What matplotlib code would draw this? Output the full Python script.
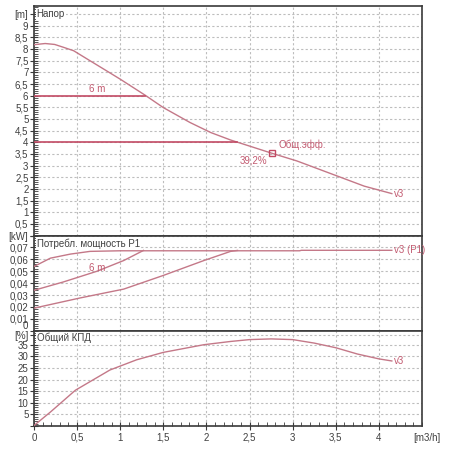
import numpy as np
import matplotlib
matplotlib.use('Agg')
from matplotlib import pyplot as plt
from matplotlib.ticker import FixedLocator, MultipleLocator

plt.rcParams['font.family'] = ['Liberation Sans', 'DejaVu Sans']

# head curve v3
q_head = [0, 0.13, 0.24, 0.34, 0.46, 0.65, 0.81, 1.0, 1.29, 1.5, 1.81, 2.05, 2.28, 2.76, 3.05, 3.52, 3.83, 4.15]
h_head = [8.19, 8.24, 8.2, 8.08, 7.93, 7.5, 7.14, 6.71, 6.02, 5.49, 4.85, 4.42, 4.1, 3.53, 3.2, 2.55, 2.12, 1.8]
# constant pressure lines
h_const = [6.0, 4.0]
q_const_end = [1.29, 2.36]
# duty point
q_duty, h_duty = 2.76, 3.53
eff_duty = '39,2%'

# power P1
q_p_v3 = [0, 0.19, 0.42, 0.65, 1.0, 3.08, 3.1, 4.15]
p_v3 = [0.054, 0.061, 0.0644, 0.0667, 0.0672, 0.0672, 0.0676, 0.0676]
q_p_6m = [0, 0.34, 0.73, 1.04, 1.27]
p_6m = [0.034, 0.041, 0.050, 0.059, 0.0675]
q_p_4m = [0, 0.53, 1.04, 1.5, 1.97, 2.28, 2.36]
p_4m = [0.019, 0.0275, 0.035, 0.0465, 0.059, 0.0667, 0.0675]

# overall efficiency
q_eff = [0, 0.19, 0.48, 0.88, 1.19, 1.5, 1.97, 2.28, 2.5, 2.75, 3.0, 3.25, 3.5, 3.75, 4.0, 4.15]
eff = [0.2, 6.0, 15.4, 24.1, 28.5, 31.7, 35.0, 36.4, 37.2, 37.5, 37.2, 35.7, 33.7, 31.0, 28.9, 28.0]

x_ticks = [0, 0.5, 1, 1.5, 2, 2.5, 3, 3.5, 4]

curve_c = '#c47888'
line_c = '#c24a64'
text_c = '#c25a70'
grid_c = '#bdbdbd'
frame_c = '#3a3a3a'
lab_c = '#404040'


def fmt(v):
	s = ('%g' % v).replace('.', ',')
	return s


fig = plt.figure(figsize=(4.5, 4.5), dpi=100)
gs = fig.add_gridspec(3, 1, height_ratios=[229, 95, 95], hspace=0,
                      left=34/450, right=422/450, top=1-6/450, bottom=1-426/450)
ax1 = fig.add_subplot(gs[0])
ax2 = fig.add_subplot(gs[1], sharex=ax1)
ax3 = fig.add_subplot(gs[2], sharex=ax1)

# --- head
ax1.plot(q_head, h_head, color=curve_c, lw=1.0, zorder=3)
for h, qe in zip(h_const, q_const_end):
	ax1.plot([0, qe], [h, h], color=line_c, lw=1.2, zorder=3)
ax1.text(0.73, 6.08, '6 m', color=text_c, fontsize=7, ha='center', va='bottom')
ax1.plot([q_duty], [h_duty], 's', ms=4, mfc='none', mec=line_c, mew=1.0, zorder=4)
ax1.text(q_duty+0.07, h_duty+0.12, 'Общ.эфф.', color=text_c, fontsize=7, ha='left', va='bottom')
ax1.text(q_duty-0.05, h_duty-0.08, eff_duty, color=text_c, fontsize=7, ha='right', va='top')
ax1.text(q_head[-1]+0.02, h_head[-1], 'v3', color=text_c, fontsize=7, ha='left', va='center')

# --- power
ax2.plot(q_p_v3, p_v3, color=curve_c, lw=1.0, zorder=3)
ax2.plot(q_p_6m, p_6m, color=curve_c, lw=1.0, zorder=3)
ax2.plot(q_p_4m, p_4m, color=curve_c, lw=1.0, zorder=3)
ax2.text(0.73, 0.0525, '6 m', color=text_c, fontsize=7, ha='center', va='center')
ax2.text(q_p_v3[-1]+0.02, p_v3[-1], 'v3 (P1)', color=text_c, fontsize=7, ha='left', va='center')

# --- efficiency
ax3.plot(q_eff, eff, color=curve_c, lw=1.0, zorder=3)
ax3.text(q_eff[-1]+0.02, eff[-1], 'v3', color=text_c, fontsize=7, ha='left', va='center')

# panel titles
box = dict(facecolor='white', edgecolor='none', pad=0.6)
ax1.text(0.03, 9.5, 'Напор', color=lab_c, fontsize=7, ha='left', va='center', bbox=box, zorder=5)
ax2.text(0.03, 0.0733, 'Потребл. мощность P1', color=lab_c, fontsize=7, ha='left', va='center', bbox=box, zorder=5)
ax3.text(0.03, 38, 'Общий КПД', color=lab_c, fontsize=7, ha='left', va='center', bbox=box, zorder=5)

# y axes
y1 = list(np.arange(0, 9.01, 0.5)) + [9.5]
ax1.set_ylim(0, 9.85)
ax1.yaxis.set_major_locator(FixedLocator(y1))
ax1.set_yticklabels([''] + [fmt(v) for v in y1[1:-1]] + ['[m]'])
ax1.yaxis.set_minor_locator(MultipleLocator(0.1))

y2 = [0, 0.01, 0.02, 0.03, 0.04, 0.05, 0.06, 0.07, 0.08]
ax2.set_ylim(0, 0.08)
ax2.yaxis.set_major_locator(FixedLocator(y2))
ax2.set_yticklabels([fmt(v) for v in y2[:-1]] + ['[kW]'])
ax2.yaxis.set_minor_locator(MultipleLocator(0.002))
ax2.get_yticklabels()[0].set_va('bottom')

y3 = [0, 5, 10, 15, 20, 25, 30, 35, 39.3]
ax3.set_ylim(0, 41)
ax3.yaxis.set_major_locator(FixedLocator(y3))
ax3.set_yticklabels([''] + [fmt(v) for v in y3[1:-1]] + ['[%]'])
ax3.yaxis.set_minor_locator(MultipleLocator(1))

ax1.set_xlim(0, 4.5)
ax3.xaxis.set_major_locator(FixedLocator(x_ticks))
ax3.set_xticklabels([fmt(v) for v in x_ticks])
ax3.xaxis.set_minor_locator(MultipleLocator(0.1))

for ax in (ax1, ax2, ax3):
	ax.grid(True, which='major', color=grid_c, lw=0.8, ls=(0, (2, 2)))
	ax.tick_params(axis='y', which='major', direction='inout', length=6, width=0.8,
	               colors=frame_c, labelsize=7, labelcolor=lab_c, pad=1)
	ax.tick_params(axis='y', which='minor', direction='in', length=3, width=0.6, colors=frame_c)
	for s in ax.spines.values():
		s.set_color(frame_c)
		s.set_linewidth(1.2)
for ax in (ax1, ax2):
	ax.tick_params(axis='x', which='both', length=0, labelbottom=False)
ax3.tick_params(axis='x', which='major', direction='inout', length=6, width=0.8,
                colors=frame_c, labelsize=7, labelcolor=lab_c, pad=2)
ax3.tick_params(axis='x', which='minor', direction='in', length=3, width=0.6, colors=frame_c)

fig.text(427/450, 1-438/450, '[m3/h]', color=lab_c, fontsize=7, ha='center', va='center')

fig.savefig('out.png', dpi=100)
